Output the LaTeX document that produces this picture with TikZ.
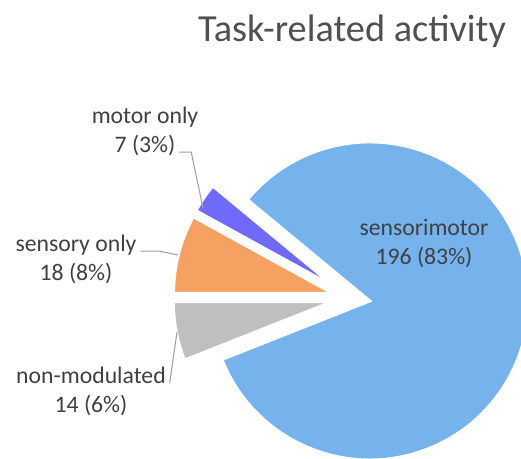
\documentclass[tikz,border=0pt]{standalone}
\usepackage{fontspec}
\setmainfont{Carlito}
\usetikzlibrary{calc}
\definecolor{smblue}{RGB}{118,178,236}
\definecolor{sensorange}{RGB}{245,161,97}
\definecolor{motorpurple}{RGB}{111,106,250}
\definecolor{nonmodgray}{RGB}{191,191,191}
\definecolor{leadergray}{RGB}{160,160,160}
\definecolor{labeltext}{RGB}{64,64,64}
\definecolor{titletext}{RGB}{80,80,80}
\tikzstyle{slice} = [
    draw=white,
    line width=1.7pt
]
\tikzstyle{catlabel} = [
    font=\fontsize{13.5}{16}\selectfont,
    text=labeltext,
    text height=10pt,
    text depth=3pt,
    inner sep=2pt
]
\tikzstyle{leader} = [draw=leadergray, line width=0.6pt]

\begin{document}
\begin{tikzpicture}[x=0.02cm, y=0.02cm, node distance=0.58cm]
\useasboundingbox (0,0) rectangle (521,458);
\clip (0,0) rectangle (521,458);

\def\R{159}
\def\boom{19}
\coordinate (centre) at (351,160);

% slices, start at 180 deg and go round
\filldraw[slice, fill=smblue] ($(centre)+(-9:\boom)$) -- ++(-158.4:\R)
    arc[start angle=-158.4, end angle=140.4, radius=\R] -- cycle;
\filldraw[slice, fill=motorpurple] ($(centre)+(145.8:\boom)$) -- ++(140.4:\R)
    arc[start angle=140.4, end angle=151.2, radius=\R] -- cycle;
\filldraw[slice, fill=sensorange] ($(centre)+(165.6:\boom)$) -- ++(151.2:\R)
    arc[start angle=151.2, end angle=180, radius=\R] -- cycle;
\filldraw[slice, fill=nonmodgray] ($(centre)+(190.8:\boom)$) -- ++(180:\R)
    arc[start angle=180, end angle=201.6, radius=\R] -- cycle;

\node (title) [anchor=base, text=titletext, font=\fontsize{21.8}{25}\selectfont]
    at (352,417) {Task-related activity};

\node (smname) [catlabel] at (424,229) {sensorimotor};
\node (smval) [catlabel, below of=smname] {196 (83\%)};

\node (motorname) [catlabel] at (145,341) {motor only};
\node (motorval) [catlabel, below of=motorname] {7 (3\%)};

\node (sensname) [catlabel] at (76,213) {sensory only};
\node (sensval) [catlabel, below of=sensname] {18 (8\%)};

\node (nonmodname) [catlabel] at (91,81) {non-modulated};
\node (nonmodval) [catlabel, below of=nonmodname] {14 (6\%)};

\coordinate (motortip) at (203,250);
\coordinate (senstip) at (178,203);
\coordinate (nonmodtip) at (177,126);

\draw [leader] (motorval.base east) -- ++(12,0) -- (motortip);
\draw [leader] (sensname.base east) -- ++(19,0) -- (senstip);
\draw [leader] (nonmodname.base east) -- (nonmodtip);

\end{tikzpicture}
\end{document}
